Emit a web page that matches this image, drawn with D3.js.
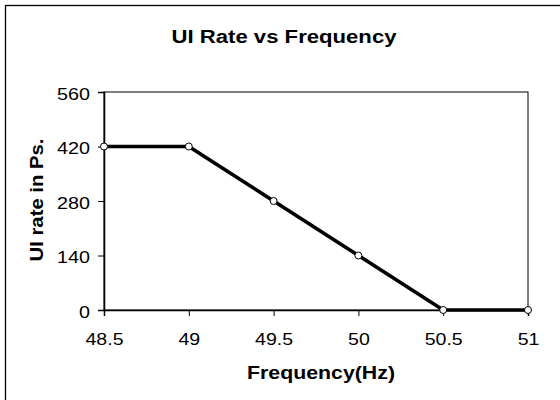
<!DOCTYPE html>
<html lang="en">
<head>
<meta charset="UTF-8">
<title>UI Rate vs Frequency</title>
<script src="https://d3js.org/d3.v7.min.js"></script>
<style>
body { margin: 0; background: #fff; }
text { font-family: 'Liberation Sans', Arial, sans-serif; fill: #000; }
</style>
</head>
<body>
<svg class="container"></svg>
<script>
// chart data
const freq = [48.5, 49, 49.5, 50, 50.5, 51];
const uiRate = [420, 420, 280, 140, 0, 0];
const xTicks = [48.5, 49, 49.5, 50, 50.5, 51];
const yTicks = [0, 140, 280, 420, 560];

const width = 560, height = 400;
const plot = { left: 104, right: 528, top: 92, bottom: 310 };

const svg = d3.select('svg.container')
    .attr('width', width)
    .attr('height', height);

// outer chart frame (runs off the right and bottom edges)
svg.append('rect')
    .attr('x', 5.5).attr('y', 5.5)
    .attr('width', 700).attr('height', 600)
    .attr('fill', 'none')
    .attr('stroke', '#000')
    .attr('stroke-width', 1.3);

const x = d3.scaleLinear().domain([48.5, 51]).range([plot.left, plot.right]);
const y = d3.scaleLinear().domain([0, 560]).range([plot.bottom, plot.top]);

// Excel text comes out wider than Liberation Sans, so stretch it a bit
function stretch(sel, factor) {
    sel.each(function() {
        const w = this.getComputedTextLength();
        d3.select(this)
            .attr('textLength', w * factor)
            .attr('lengthAdjust', 'spacingAndGlyphs');
    });
}

// plot area box
svg.append('rect')
    .attr('x', plot.left).attr('y', plot.top)
    .attr('width', plot.right - plot.left)
    .attr('height', plot.bottom - plot.top)
    .attr('fill', 'none')
    .attr('stroke', '#000')
    .attr('stroke-width', 1);

// axes
const xAxis = svg.append('g')
    .attr('transform', `translate(0,${plot.bottom})`)
    .call(d3.axisBottom(x).tickValues(xTicks).tickSize(6).tickPadding(17).tickFormat(d => d));
const yAxis = svg.append('g')
    .attr('transform', `translate(${plot.left},0)`)
    .call(d3.axisLeft(y).tickValues(yTicks).tickSize(6).tickPadding(8).tickFormat(d => d));

[xAxis, yAxis].forEach(g => {
    g.select('.domain').attr('stroke', '#000').attr('stroke-width', 1.5);
    g.selectAll('.tick line').attr('stroke', '#000').attr('stroke-width', 1);
    g.selectAll('.tick text')
        .attr('font-family', "'Liberation Sans', Arial, sans-serif")
        .attr('font-size', 17)
        .attr('fill', '#000');
});
xAxis.selectAll('.tick text').attr('dy', '0.71em');
yAxis.selectAll('.tick text').attr('dy', '0.44em');
stretch(xAxis.selectAll('.tick text'), 1.15);
stretch(yAxis.selectAll('.tick text'), 1.16);

// the line
const line = d3.line()
    .x((d, i) => x(freq[i]))
    .y(d => y(d));

svg.append('path')
    .datum(uiRate)
    .attr('d', line)
    .attr('fill', 'none')
    .attr('stroke', '#000')
    .attr('stroke-width', 3.6)
    .attr('stroke-linejoin', 'round');

svg.append('g')
    .selectAll('circle')
    .data(uiRate)
    .join('circle')
    .attr('cx', (d, i) => x(freq[i]))
    .attr('cy', d => y(d))
    .attr('r', 3.5)
    .attr('fill', '#fff')
    .attr('stroke', '#000')
    .attr('stroke-width', 1);

// title and axis titles
svg.append('text')
    .attr('x', 284).attr('y', 43)
    .attr('text-anchor', 'middle')
    .attr('font-size', 18)
    .attr('font-weight', 'bold')
    .attr('textLength', 225)
    .attr('lengthAdjust', 'spacingAndGlyphs')
    .text('UI Rate vs Frequency');

svg.append('text')
    .attr('x', 321).attr('y', 379)
    .attr('text-anchor', 'middle')
    .attr('font-size', 17.5)
    .attr('font-weight', 'bold')
    .attr('textLength', 148)
    .attr('lengthAdjust', 'spacingAndGlyphs')
    .text('Frequency(Hz)');

svg.append('text')
    .attr('transform', 'translate(42.5,200) rotate(-90)')
    .attr('text-anchor', 'middle')
    .attr('font-size', 17.5)
    .attr('font-weight', 'bold')
    .attr('textLength', 123)
    .attr('lengthAdjust', 'spacingAndGlyphs')
    .text('UI rate in Ps.');
</script>
</body>
</html>
